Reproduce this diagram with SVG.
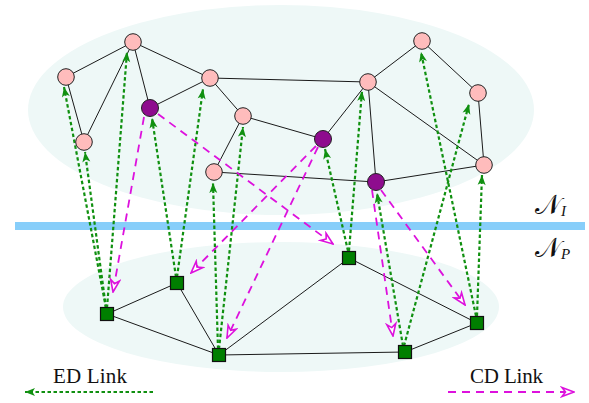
<svg xmlns="http://www.w3.org/2000/svg" width="589" height="403" viewBox="0 0 589 403">
  <style>
    .area { fill: #eef8f7; stroke: none; }
    .edge { stroke: #1a1a1a; stroke-width: 1; fill: none; }
    .ed { stroke: #109010; stroke-width: 2.2; stroke-dasharray: 3.5 2.5; fill: none; marker-end: url(#ed-head); }
    .cd { stroke: #dd11dd; stroke-width: 1.8; stroke-dasharray: 8 6; fill: none; marker-end: url(#cd-head); }
    .inet { fill: #ffbcbc; stroke: #222; stroke-width: 1; }
    .ctrl { fill: #8e0c8e; stroke: #222; stroke-width: 1; }
    .phys { fill: #007f00; stroke: #111; stroke-width: 1.2; }
    .label { font-family: "Liberation Serif", "Times New Roman", serif; font-size: 21px; fill: #111; }
    .net { font-family: "DejaVu Serif", "Liberation Serif", serif; font-size: 27px; fill: #111; }
    .sub { font-family: "Liberation Serif", serif; font-style: italic; font-size: 15px; fill: #111; }
  </style>
  <defs>
    <marker id="ed-head" viewBox="-11 -5 12 10" refX="0" refY="0" markerWidth="12" markerHeight="10" markerUnits="userSpaceOnUse" orient="auto">
      <path d="M0,0 L-10,-4 L-7.5,0 L-10,4 Z" fill="#109010"/>
    </marker>
    <marker id="cd-head" viewBox="-14 -6 15 12" refX="0" refY="0" markerWidth="15" markerHeight="12" markerUnits="userSpaceOnUse" orient="auto">
      <path d="M0,0 L-12,-4.5 L-8.5,0 L-12,4.5 Z" fill="#ffffff" stroke="#dd11dd" stroke-width="1.6" stroke-linejoin="miter"/>
    </marker>
  </defs>

  <!-- layer backgrounds -->
  <ellipse class="area" cx="281" cy="110" rx="253" ry="105"/>
  <ellipse class="area" cx="281" cy="307" rx="218" ry="65"/>
  <rect x="15" y="222" width="570" height="8" fill="#87cefa"/>

  <text class="net" x="535" y="214">𝒩</text><text class="sub" x="561" y="216">I</text>
  <text class="net" x="535" y="257">𝒩</text><text class="sub" x="561" y="259">P</text>

  <g id="connectors">
    <!-- overlay links -->
    <line class="edge" x1="66" y1="77" x2="133" y2="42"/>
    <line class="edge" x1="66" y1="77" x2="84" y2="142"/>
    <line class="edge" x1="84" y1="142" x2="133" y2="42"/>
    <line class="edge" x1="133" y1="42" x2="150" y2="108"/>
    <line class="edge" x1="133" y1="42" x2="210" y2="78"/>
    <line class="edge" x1="150" y1="108" x2="210" y2="78"/>
    <line class="edge" x1="210" y1="78" x2="243" y2="116"/>
    <line class="edge" x1="210" y1="78" x2="368" y2="82"/>
    <line class="edge" x1="243" y1="116" x2="214" y2="172"/>
    <line class="edge" x1="243" y1="116" x2="323" y2="139"/>
    <line class="edge" x1="214" y1="172" x2="376" y2="182"/>
    <line class="edge" x1="323" y1="139" x2="368" y2="82"/>
    <line class="edge" x1="368" y1="82" x2="422" y2="41"/>
    <line class="edge" x1="368" y1="82" x2="376" y2="182"/>
    <line class="edge" x1="368" y1="82" x2="484" y2="165"/>
    <line class="edge" x1="422" y1="41" x2="478" y2="93"/>
    <line class="edge" x1="478" y1="93" x2="484" y2="165"/>
    <line class="edge" x1="376" y1="182" x2="484" y2="165"/>
    <!-- physical links -->
    <line class="edge" x1="107" y1="314" x2="177" y2="283"/>
    <line class="edge" x1="107" y1="314" x2="219" y2="355"/>
    <line class="edge" x1="177" y1="283" x2="219" y2="355"/>
    <line class="edge" x1="219" y1="355" x2="349" y2="258"/>
    <line class="edge" x1="219" y1="355" x2="405" y2="352"/>
    <line class="edge" x1="349" y1="258" x2="477" y2="323"/>
    <line class="edge" x1="405" y1="352" x2="477" y2="323"/>

    <!-- ED links -->
    <line class="ed" x1="106" y1="308" x2="64" y2="87"/>
    <line class="ed" x1="106" y1="308" x2="85" y2="152"/>
    <line class="ed" x1="107" y1="308" x2="127" y2="52"/>
    <line class="ed" x1="176" y1="277" x2="152" y2="118"/>
    <line class="ed" x1="177" y1="277" x2="203" y2="89"/>
    <line class="ed" x1="218" y1="349" x2="213" y2="183"/>
    <line class="ed" x1="219" y1="349" x2="243" y2="127"/>
    <line class="ed" x1="348" y1="251" x2="325" y2="149"/>
    <line class="ed" x1="349" y1="251" x2="362" y2="91"/>
    <line class="ed" x1="403" y1="346" x2="377" y2="193"/>
    <line class="ed" x1="404" y1="346" x2="469" y2="104"/>
    <line class="ed" x1="476" y1="316" x2="421" y2="52"/>
    <line class="ed" x1="477" y1="316" x2="482" y2="175"/>

    <!-- CD links -->
    <line class="cd" x1="144" y1="117" x2="113" y2="292"/>
    <line class="cd" x1="158" y1="114" x2="333" y2="244"/>
    <line class="cd" x1="316" y1="146" x2="191" y2="273"/>
    <line class="cd" x1="318" y1="147" x2="227" y2="338"/>
    <line class="cd" x1="372" y1="190" x2="393" y2="336"/>
    <line class="cd" x1="381" y1="190" x2="465" y2="305"/>
  </g>

  <!-- overlay nodes -->
  <g id="n-a"><circle class="inet" cx="66" cy="77" r="8.3"/></g>
  <g id="n-b"><circle class="inet" cx="133" cy="42" r="8.3"/></g>
  <g id="n-c"><circle class="inet" cx="84" cy="142" r="8.3"/></g>
  <g id="n-d"><circle class="ctrl" cx="150" cy="108" r="8.5"/></g>
  <g id="n-e"><circle class="inet" cx="210" cy="78" r="8.3"/></g>
  <g id="n-f"><circle class="inet" cx="243" cy="116" r="8.3"/></g>
  <g id="n-g"><circle class="inet" cx="214" cy="172" r="8.3"/></g>
  <g id="n-h"><circle class="ctrl" cx="323" cy="139" r="8.5"/></g>
  <g id="n-i"><circle class="inet" cx="368" cy="82" r="8.3"/></g>
  <g id="n-j"><circle class="inet" cx="422" cy="41" r="8.3"/></g>
  <g id="n-k"><circle class="inet" cx="478" cy="93" r="8.3"/></g>
  <g id="n-l"><circle class="inet" cx="484" cy="165" r="8.3"/></g>
  <g id="n-m"><circle class="ctrl" cx="376" cy="182" r="8.5"/></g>

  <!-- physical nodes -->
  <g id="p-1"><rect class="phys" x="100.5" y="307.5" width="13" height="13"/></g>
  <g id="p-2"><rect class="phys" x="170.5" y="276.5" width="13" height="13"/></g>
  <g id="p-3"><rect class="phys" x="212.5" y="348.5" width="13" height="13"/></g>
  <g id="p-4"><rect class="phys" x="342.5" y="251.5" width="13" height="13"/></g>
  <g id="p-5"><rect class="phys" x="398.5" y="345.5" width="13" height="13"/></g>
  <g id="p-6"><rect class="phys" x="470.5" y="316.5" width="13" height="13"/></g>

  <!-- legend -->
  <g id="legend-ed">
    <text class="label" x="53" y="383" textLength="74">ED Link</text>
    <line class="ed" x1="153" y1="392" x2="25" y2="392"/>
  </g>
  <g id="legend-cd">
    <text class="label" x="470" y="383" textLength="73">CD Link</text>
    <line class="cd" x1="448" y1="392" x2="574" y2="392"/>
  </g>
</svg>
